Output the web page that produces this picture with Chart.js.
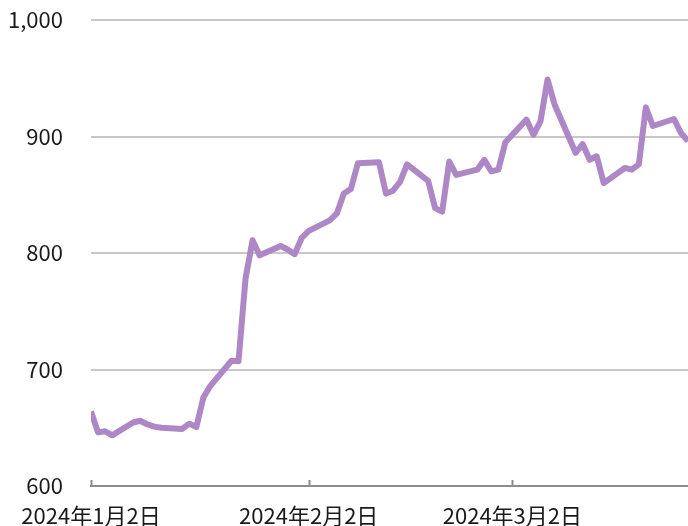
<!DOCTYPE html>
<html>
<head>
<meta charset="utf-8">
<script src="https://cdn.jsdelivr.net/npm/chart.js@4/dist/chart.umd.min.js"></script>
<style>
  html, body { margin: 0; padding: 0; background: #fff; }
</style>
</head>
<body>
<canvas id="priceChart" width="688" height="526"></canvas>
<script>
// trading days and closing values
const dates = [
  '2024-01-02', '2024-01-03', '2024-01-04', '2024-01-05', '2024-01-08', '2024-01-09', '2024-01-10',
  '2024-01-11', '2024-01-12', '2024-01-15', '2024-01-16', '2024-01-17', '2024-01-18', '2024-01-19',
  '2024-01-22', '2024-01-23', '2024-01-24', '2024-01-25', '2024-01-26', '2024-01-29', '2024-01-30',
  '2024-01-31', '2024-02-01', '2024-02-02', '2024-02-05', '2024-02-06', '2024-02-07', '2024-02-08',
  '2024-02-09', '2024-02-12', '2024-02-13', '2024-02-14', '2024-02-15', '2024-02-16', '2024-02-19',
  '2024-02-20', '2024-02-21', '2024-02-22', '2024-02-23', '2024-02-26', '2024-02-27', '2024-02-28',
  '2024-02-29', '2024-03-01', '2024-03-04', '2024-03-05', '2024-03-06', '2024-03-07', '2024-03-08',
  '2024-03-11', '2024-03-12', '2024-03-13', '2024-03-14', '2024-03-15', '2024-03-18', '2024-03-19',
  '2024-03-20', '2024-03-21', '2024-03-22', '2024-03-25', '2024-03-26', '2024-03-27'
];
const prices = [
  664, 646, 647, 643.5, 654.5, 656, 653,
  651, 650, 649, 653.5, 650.5, 676, 686,
  707.5, 707, 778, 811, 798, 806, 803,
  799, 813, 819, 828, 834, 851, 855,
  877, 878, 851, 853.5, 861, 876, 862,
  838.5, 835.5, 878.5, 867, 871.5, 880, 870,
  871.5, 895, 914.5, 901.5, 913, 949, 927.5,
  886, 893.5, 880, 883, 860, 873, 871.5,
  876, 925, 909, 915, 903, 896
];
const tickDates = ['2024-01-02', '2024-02-02', '2024-03-02'];
const yTicks = [600, 700, 800, 900, 1000];

const DAY = 86400000;
const origine = Date.UTC(2024, 0, 2);

function versJour(s) {
    const p = s.split('-').map(Number);
    return (Date.UTC(p[0], p[1] - 1, p[2]) - origine) / DAY;
}

function formatDate(jour) {
    const d = new Date(origine + jour * DAY);
    return `${d.getUTCFullYear()}年${d.getUTCMonth() + 1}月${d.getUTCDate()}日`;
}

const points = dates.map((d, i) => ({ x: versJour(d), y: prices[i] }));
const jourMax = versJour(dates[dates.length - 1]);

// small tick marks drawn upward from the x axis line
const marquesInternes = {
    id: 'marquesInternes',
    afterDraw(chart) {
        const ctx = chart.ctx;
        const xs = chart.scales.x;
        const bas = chart.chartArea.bottom;
        ctx.save();
        ctx.strokeStyle = '#8c8c8c';
        ctx.lineWidth = 2;
        xs.ticks.forEach(t => {
            const px = Math.round(xs.getPixelForValue(t.value)) + 0.5;
            ctx.beginPath();
            ctx.moveTo(px, bas - 6);
            ctx.lineTo(px, bas);
            ctx.stroke();
        });
        ctx.restore();
    }
};

const ctx = document.getElementById('priceChart').getContext('2d');
new Chart(ctx, {
    type: 'line',
    data: {
        datasets: [{
            data: points,
            borderColor: '#ae87c7',
            borderWidth: 6,
            pointRadius: 0,
            tension: 0,
            borderJoinStyle: 'round',
            clip: 0
        }]
    },
    options: {
        responsive: false,
        animation: false,
        layout: { padding: { top: 20, right: 0, left: 0, bottom: 0 } },
        plugins: {
            legend: { display: false },
            tooltip: { enabled: false }
        },
        scales: {
            x: {
                type: 'linear',
                min: 0,
                max: jourMax,
                afterBuildTicks: function (scale) {
                    scale.ticks = tickDates.map(d => ({ value: versJour(d) }));
                },
                afterFit: function (scale) {
                    scale.height = 40;
                    scale.paddingLeft = 0;
                    scale.paddingRight = 0;
                },
                grid: { display: false, drawTicks: false },
                border: { display: true, color: '#8c8c8c', width: 2 },
                ticks: {
                    autoSkip: false,
                    maxRotation: 0,
                    padding: 16,
                    color: '#1a1a1a',
                    font: { family: '"Noto Sans CJK JP"', size: 22 },
                    callback: function (value) {
                        return formatDate(value);
                    }
                }
            },
            y: {
                min: 600,
                max: 1000,
                afterBuildTicks: function (scale) {
                    scale.ticks = yTicks.map(v => ({ value: v }));
                },
                afterFit: function (scale) {
                    scale.width = 91;
                    scale.paddingTop = 0;
                    scale.paddingBottom = 0;
                },
                grid: {
                    drawTicks: false,
                    lineWidth: 2,
                    color: function (c) {
                        return c.tick && c.tick.value === 600 ? 'rgba(0,0,0,0)' : '#c8c8c8';
                    }
                },
                border: { display: false },
                ticks: {
                    padding: 28,
                    color: '#1a1a1a',
                    font: { family: '"Noto Sans CJK JP"', size: 22 },
                    callback: function (value) {
                        return value.toLocaleString('en-US');
                    }
                }
            }
        }
    },
    plugins: [marquesInternes]
});
</script>
</body>
</html>
